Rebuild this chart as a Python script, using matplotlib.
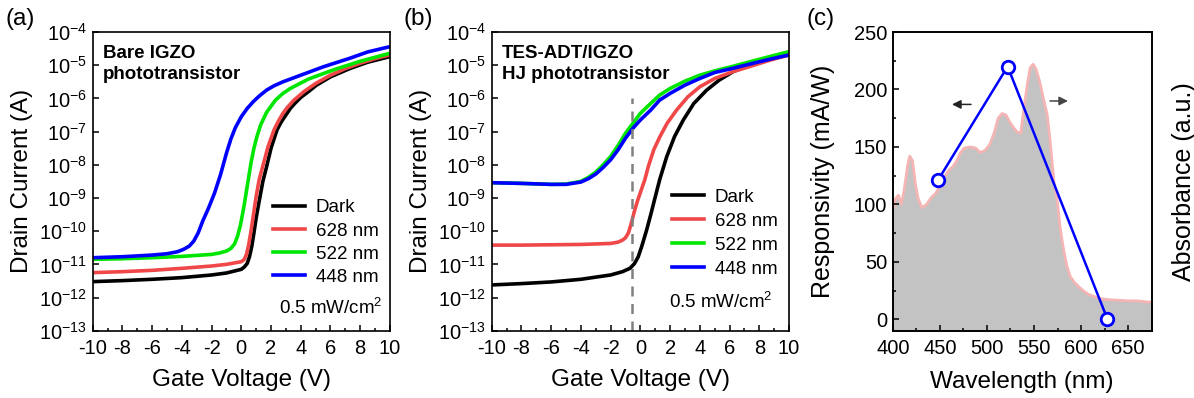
import numpy as np
import matplotlib
matplotlib.use('Agg')
import matplotlib.pyplot as plt
from matplotlib.ticker import MultipleLocator, FuncFormatter, FixedLocator

plt.rcParams['font.family'] = ['Liberation Sans', 'DejaVu Sans']
plt.rcParams['mathtext.fontset'] = 'custom'
plt.rcParams['mathtext.rm'] = 'Liberation Sans'
plt.rcParams['mathtext.default'] = 'regular'
plt.rcParams['axes.unicode_minus'] = False

# ---- (a) bare IGZO, log10 of drain current (A) ----
a_dark_v = [-10, -8, -6, -4, -2, -1, 0, 0.2, 0.4, 0.55, 0.7, 0.85, 1.0, 1.2, 1.45, 1.7, 2.0, 2.4, 2.7, 3.0, 3.3, 3.6,
            4.0, 4.5, 5.06, 6, 7.3, 8.5, 10]
a_dark_log = [-11.52, -11.49, -11.45, -11.4, -11.32, -11.26, -11.15, -11.08, -10.97, -10.77, -10.47, -10.05, -9.6,
              -9.1, -8.5, -8.06, -7.5, -6.95, -6.7, -6.5, -6.3, -6.15, -5.97, -5.8, -5.6, -5.35, -5.1, -4.91, -4.74]
a_628_v = [-10, -8, -6, -4, -2, -1, 0, 0.2, 0.35, 0.5, 0.65, 0.8, 1.0, 1.2, 1.5, 1.8, 2.2, 2.5, 2.8, 3.1, 3.5, 4.2,
           5, 6, 7, 8, 9, 10]
a_628_log = [-11.25, -11.22, -11.18, -11.12, -11.05, -11.0, -10.92, -10.85, -10.7, -10.4, -10.0, -9.55, -8.95,
             -8.45, -7.95, -7.45, -6.95, -6.68, -6.45, -6.27, -6.07, -5.8, -5.55, -5.3, -5.1, -4.94, -4.8, -4.69]
a_522_v = [-10, -8, -6, -4, -2, -1.5, -1.0, -0.7, -0.45, -0.25, -0.05, 0.2, 0.45, 0.65, 0.85, 1.05, 1.3, 1.7, 2.3,
           2.8, 3.3, 4.5, 6.2, 8, 10]
a_522_log = [-10.85, -10.83, -10.8, -10.76, -10.7, -10.66, -10.6, -10.52, -10.38, -10.15, -9.8, -9.2, -8.5, -7.95,
             -7.5, -7.15, -6.8, -6.42, -6.05, -5.85, -5.7, -5.42, -5.14, -4.88, -4.64]
a_448_v = [-10, -8, -6, -5, -4.3, -3.9, -3.5, -3.2, -2.9, -2.6, -2.2, -1.8, -1.4, -1.0, -0.7, -0.4, 0, 0.4, 0.8,
           1.2, 1.7, 2.2, 2.8, 4, 5.5, 7.3, 8.5, 10]
a_448_log = [-10.8, -10.77, -10.72, -10.68, -10.62, -10.55, -10.45, -10.3, -10.05, -9.7, -9.3, -8.85, -8.3, -7.65,
             -7.22, -6.88, -6.55, -6.3, -6.1, -5.93, -5.75, -5.62, -5.5, -5.3, -5.05, -4.79, -4.6, -4.44]

# ---- (b) TES-ADT/IGZO HJ ----
b_dark_v = [-10, -8, -6, -4, -2, -1.2, -0.7, -0.4, -0.15, 0.1, 0.42, 0.7, 0.95, 1.3, 1.77, 2.3, 2.89, 3.6, 4.46,
            5.3, 6.25, 7.5, 8.7, 10]
b_dark_log = [-11.62, -11.58, -11.53, -11.45, -11.32, -11.22, -11.12, -10.98, -10.78, -10.45, -9.97, -9.5, -9.06,
              -8.45, -7.76, -7.15, -6.65, -6.15, -5.75, -5.45, -5.19, -4.98, -4.82, -4.69]
b_628_v = [-10, -8, -6, -4, -2, -1.5, -1.2, -1.0, -0.8, -0.6, -0.4, -0.2, 0.03, 0.3, 0.53, 0.9, 1.32, 1.8, 2.44,
           3.2, 4.0, 5, 6.25, 7.5, 8.7, 10]
b_628_log = [-10.42, -10.42, -10.41, -10.4, -10.37, -10.33, -10.27, -10.2, -10.05, -9.75, -9.4, -9.1, -8.8, -8.45,
             -8.06, -7.55, -7.15, -6.75, -6.35, -5.95, -5.65, -5.4, -5.19, -5.02, -4.85, -4.69]
b_522_v = [-10, -8, -6, -5, -4, -3.5, -3, -2.5, -2, -1.5, -1, -0.5, 0, 0.7, 1.3, 2, 3, 4, 5, 6.25, 7.5, 8.7, 10]
b_522_log = [-8.54, -8.56, -8.59, -8.58, -8.5, -8.38, -8.22, -8.0, -7.75, -7.42, -7.05, -6.75, -6.45, -6.15, -5.9,
             -5.7, -5.48, -5.3, -5.17, -5.03, -4.88, -4.74, -4.59]
b_448_v = [-10, -8, -6, -5, -4, -3.5, -3, -2.5, -2, -1.5, -1, -0.5, 0, 0.7, 1.3, 2, 3, 4, 5, 6.25, 7.5, 8.7, 10]
b_448_log = [-8.54, -8.56, -8.59, -8.59, -8.52, -8.42, -8.28, -8.08, -7.85, -7.55, -7.2, -6.9, -6.65, -6.35, -6.05,
             -5.85, -5.6, -5.4, -5.22, -5.09, -4.95, -4.82, -4.69]
b_dash_v = -0.55

labels = ['Dark', '628 nm', '522 nm', '448 nm']
colors = ['black', '#f04848', '#00e600', '#0000ff']

# ---- (c) responsivity and absorbance ----
resp_wl = [448, 522, 628]
resp_val = [121, 220, 0]
abs_wl = [400, 403, 406, 409, 412, 416, 418, 421, 424, 427, 431, 436, 441, 446, 450, 455, 460, 464, 468, 472, 476,
          482, 488, 493, 498, 503, 508, 512, 516, 520, 524, 528, 532, 536, 539, 543, 546, 549, 552, 556, 560, 564,
          567, 571, 574.5, 578, 581.5, 585, 588.5, 593, 598, 602, 607, 613, 620, 630, 640, 650, 660, 670, 675]
abs_val = [95, 105, 108, 100, 112, 135, 142, 138, 118, 105, 97, 100, 106, 110, 116, 124, 130, 133, 138, 145, 149,
           150, 149, 145, 147, 152, 163, 175, 179, 178, 172, 167, 163, 162, 182, 205, 219, 222, 218, 207, 192, 178,
           156, 121, 104, 78, 60, 46, 37, 32, 28, 25, 22, 20, 18, 17, 16.5, 16, 16, 15, 15]

fig = plt.figure(figsize=(11.94, 3.98), dpi=100)
bot, hgt = 0.169, 0.7505
ax_a = fig.add_axes([0.0776, bot, 0.249, hgt])
ax_b = fig.add_axes([0.4118, bot, 0.249, hgt])
ax_c = fig.add_axes([0.7477, bot, 0.2169, hgt])

tick_fs = 14.5
label_fs = 17.5
text_fs = 13.5


def log_fmt(v, pos):
    return r'$10^{%d}$' % int(round(np.log10(v)))


def style_ticks(ax):
    ax.tick_params(which='both', direction='in', top=False, right=False, labelsize=tick_fs, width=1.1)
    ax.tick_params(axis='x', pad=6)
    ax.tick_params(axis='y', pad=4)
    ax.tick_params(which='major', length=4.5)
    ax.tick_params(which='minor', length=2.5)
    for s in ax.spines.values():
        s.set_linewidth(1.2)


def style_iv(ax):
    ax.set_yscale('log')
    ax.set_xlim(-10, 10)
    ax.set_ylim(1e-13, 1e-4)
    ax.xaxis.set_major_locator(MultipleLocator(2))
    ax.xaxis.set_minor_locator(MultipleLocator(1))
    ax.yaxis.set_major_locator(FixedLocator([10.0 ** k for k in range(-13, -3)]))
    ax.yaxis.set_minor_locator(FixedLocator([]))
    ax.yaxis.set_major_formatter(FuncFormatter(log_fmt))
    style_ticks(ax)
    ax.set_xlabel('Gate Voltage (V)', fontsize=label_fs)
    ax.set_ylabel('Drain Current (A)', fontsize=label_fs)
    ax.xaxis.set_label_coords(0.5, -0.128)
    ax.yaxis.set_label_coords(-0.20, 0.5)


# panel a
for v, lg, lab, c in zip([a_dark_v, a_628_v, a_522_v, a_448_v],
                         [a_dark_log, a_628_log, a_522_log, a_448_log], labels, colors):
    ax_a.plot(v, 10.0 ** np.array(lg), color=c, lw=2.6, label=lab)
style_iv(ax_a)
ax_a.text(0.035, 0.955, 'Bare IGZO\nphototransistor', transform=ax_a.transAxes, fontsize=text_fs,
          fontweight='bold', va='top', ha='left', linespacing=1.25)
ax_a.text(0.976, 0.076, r'0.5 mW/cm$^2$', transform=ax_a.transAxes, fontsize=text_fs, ha='right', va='center')
ax_a.legend(loc='upper left', bbox_to_anchor=(0.605, 0.44), frameon=False, fontsize=text_fs,
            handlelength=1.75, handletextpad=0.55, labelspacing=0.32, borderpad=0, borderaxespad=0)

# panel b
for v, lg, lab, c in zip([b_dark_v, b_628_v, b_522_v, b_448_v],
                         [b_dark_log, b_628_log, b_522_log, b_448_log], labels, colors):
    ax_b.plot(v, 10.0 ** np.array(lg), color=c, lw=2.6, label=lab)
style_iv(ax_b)
ax_b.plot([b_dash_v, b_dash_v], [1e-13, 1e-6], ls=(0, (4, 3)), color='gray', lw=1.8)
ax_b.text(0.034, 0.955, 'TES-ADT/IGZO\nHJ phototransistor', transform=ax_b.transAxes, fontsize=text_fs,
          fontweight='bold', va='top', ha='left', linespacing=1.25)
ax_b.text(0.946, 0.097, r'0.5 mW/cm$^2$', transform=ax_b.transAxes, fontsize=text_fs, ha='right', va='center')
ax_b.legend(loc='upper left', bbox_to_anchor=(0.605, 0.475), frameon=False, fontsize=text_fs,
            handlelength=1.75, handletextpad=0.55, labelspacing=0.36, borderpad=0, borderaxespad=0)

# panel c
ax_c2 = ax_c.twinx()
ax_c.set_zorder(ax_c2.get_zorder() + 1)
ax_c.patch.set_visible(False)
ax_c.set_xlim(400, 675)
ax_c.set_ylim(-10, 250)
ax_c2.set_ylim(-10, 250)
ax_c2.fill_between(abs_wl, abs_val, ax_c2.get_ylim()[0], color='#c3c3c3', lw=0)
ax_c2.plot(abs_wl, abs_val, color='#f5b5b5', lw=2)
ax_c.plot(resp_wl, resp_val, color='#0000ff', lw=1.8, marker='o', ms=9, mfc='white', mec='#0000ff', mew=2)
ax_c.xaxis.set_major_locator(MultipleLocator(50))
ax_c.xaxis.set_minor_locator(MultipleLocator(25))
ax_c.yaxis.set_major_locator(MultipleLocator(50))
ax_c.yaxis.set_minor_locator(MultipleLocator(25))
style_ticks(ax_c)
ax_c2.tick_params(which='both', right=False, labelright=False)
for s in ax_c2.spines.values():
    s.set_linewidth(1.2)
ax_c.set_xlabel('Wavelength (nm)', fontsize=label_fs)
ax_c.set_ylabel('Responsivity (mA/W)', fontsize=18)
ax_c2.set_ylabel('Absorbance (a.u.)', fontsize=18)
ax_c.xaxis.set_label_coords(0.5, -0.135)
ax_c.yaxis.set_label_coords(-0.223, 0.5)
ax_c2.yaxis.set_label_coords(1.078, 0.5)
ax_c.annotate('', xy=(460, 187), xytext=(486, 187),
              arrowprops=dict(arrowstyle='-|>', color='#222222', lw=1.1, mutation_scale=13))
ax_c.annotate('', xy=(589, 190), xytext=(564, 190),
              arrowprops=dict(arrowstyle='-|>', color='#444444', lw=1.1, mutation_scale=13))

fig.text(0.017, 0.953, '(a)', fontsize=17.5, ha='center', va='center')
fig.text(0.350, 0.953, '(b)', fontsize=17.5, ha='center', va='center')
fig.text(0.687, 0.953, '(c)', fontsize=17.5, ha='center', va='center')

fig.savefig('out.png', dpi=100)
